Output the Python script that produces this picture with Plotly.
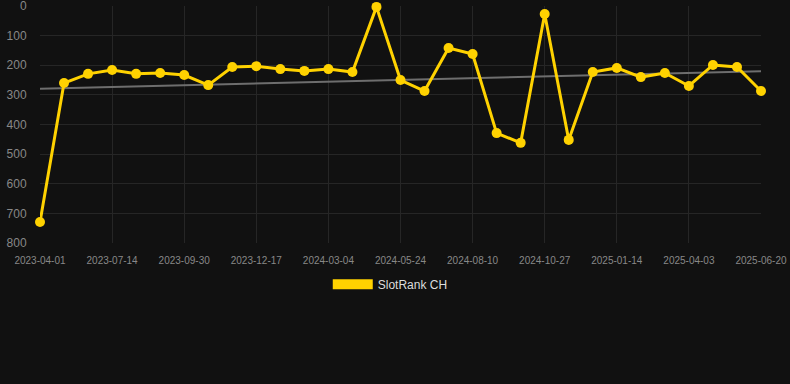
import numpy as np
import plotly.graph_objects as go

dates = ["2023-04-01", "2023-05-06", "2023-06-09", "2023-07-14", "2023-08-09", "2023-09-04",
         "2023-09-30", "2023-10-26", "2023-11-21", "2023-12-17", "2024-01-12", "2024-02-07",
         "2024-03-04", "2024-03-31", "2024-04-27", "2024-05-24", "2024-06-19", "2024-07-15",
         "2024-08-10", "2024-09-05", "2024-10-01", "2024-10-27", "2024-11-22", "2024-12-19",
         "2025-01-14", "2025-02-09", "2025-03-08", "2025-04-03", "2025-04-29", "2025-05-25",
         "2025-06-20"]
ranks = [729, 260, 229, 216, 229, 226, 233, 267, 206, 203, 213, 219, 213, 223, 3, 250,
         287, 142, 162, 429, 462, 27, 452, 223, 209, 240, 226, 270, 199, 206, 287]
tick_labels = dates[::3]
y_ticks = [0, 100, 200, 300, 400, 500, 600, 700, 800]
series_name = "SlotRank CH"

idx = np.arange(len(ranks))
slope, intercept = np.polyfit(idx, ranks, 1)
trend = (slope * idx + intercept).tolist()

gold = "#FFD200"
fig = go.Figure()
fig.add_trace(go.Scatter(x=dates, y=trend, mode="lines",
                         line=dict(color="#6e6e6e", width=2), showlegend=False, hoverinfo="skip"))
fig.add_trace(go.Scatter(x=dates, y=ranks, mode="lines+markers",
                         line=dict(color=gold, width=3), marker=dict(color=gold, size=10),
                         showlegend=False, cliponaxis=False))
fig.add_trace(go.Scatter(x=[None], y=[None], mode="lines", name=series_name,
                         line=dict(color=gold, width=12), showlegend=True))

fig.update_layout(
    width=790, height=384,
    paper_bgcolor="#111111", plot_bgcolor="#111111",
    margin=dict(l=40, r=29, t=6, b=141),
    font=dict(family="Liberation Sans, Arial, sans-serif", color="#888888"),
    showlegend=True,
    legend=dict(orientation="h", xref="container", yref="container", x=0.494, xanchor="center",
                y=0.26, yanchor="middle", font=dict(size=12, color="#dddddd"),
                itemwidth=40, bgcolor="rgba(0,0,0,0)"),
)
fig.update_xaxes(type="category", categoryorder="array", categoryarray=dates,
                 range=[0, len(dates) - 1], tickmode="array", tickvals=tick_labels, ticktext=tick_labels,
                 showgrid=True, gridcolor="#262626", gridwidth=1, zeroline=False, automargin=False,
                 ticks="outside", ticklen=8, tickcolor="rgba(0,0,0,0)", ticklabeloverflow="allow",
                 tickfont=dict(size=10, color="#888888"), showline=False)
fig.update_yaxes(range=[800, 0], tickmode="array", tickvals=y_ticks, automargin=False,
                 showgrid=True, gridcolor="#262626", gridwidth=1, zeroline=False,
                 ticks="outside", ticklen=10, tickcolor="rgba(0,0,0,0)", ticklabeloverflow="allow",
                 tickfont=dict(size=12, color="#888888"), showline=False)

fig.write_html("out.html", config={"displayModeBar": False},
               post_script="document.body.style.margin='0';document.body.style.background='#111111';")
